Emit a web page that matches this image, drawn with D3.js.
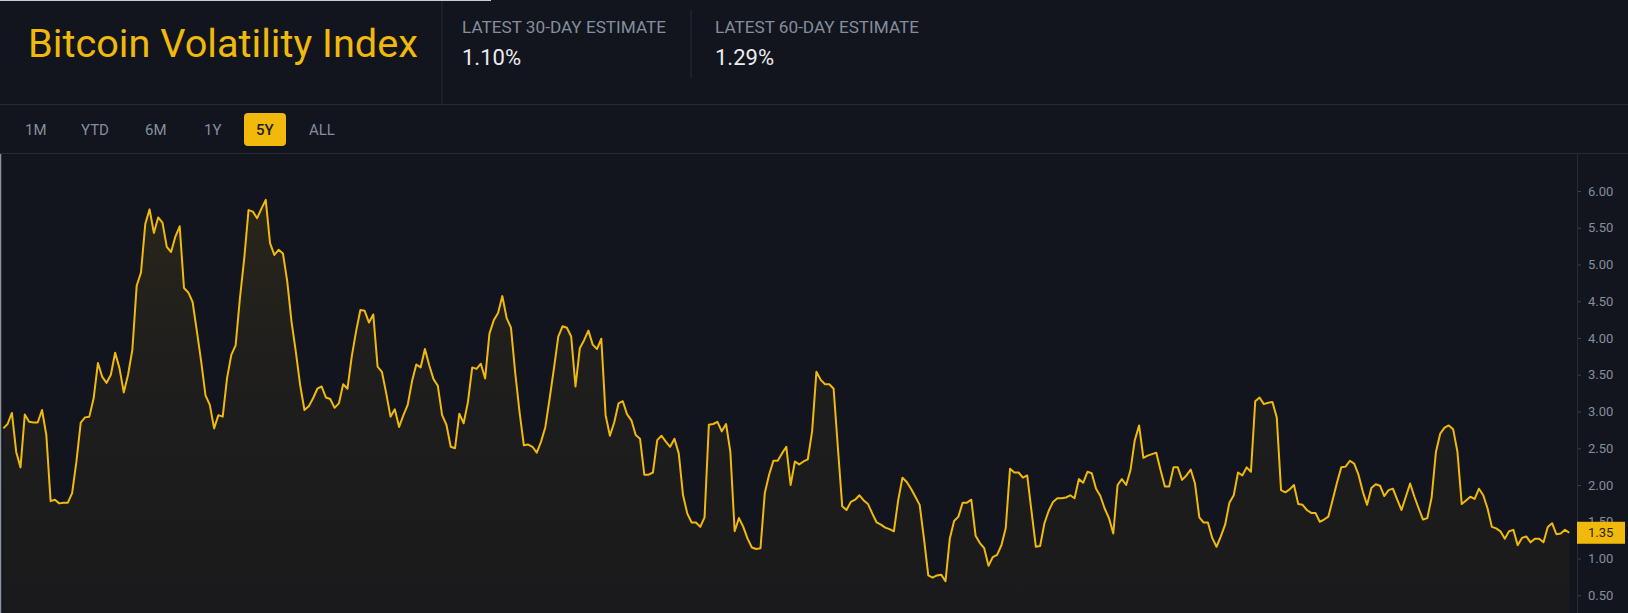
<!DOCTYPE html>
<html>
<head>
<meta charset="utf-8">
<script src="https://cdn.jsdelivr.net/npm/d3@7"></script>
<style>
  html, body { margin: 0; padding: 0; background: #12151e; overflow: hidden; }
  svg { display: block; font-family: Roboto, "Noto Sans", sans-serif; }
</style>
</head>
<body>
<div id="chart"></div>
<script>
// header texts
const title = 'Bitcoin Volatility Index';
const statLabels = ['LATEST 30-DAY ESTIMATE', 'LATEST 60-DAY ESTIMATE'];
const statValues = ['1.10%', '1.29%'];
const ranges = ['1M', 'YTD', '6M', '1Y', '5Y', 'ALL'];
const activeRange = '5Y';

// y axis
const yTicks = [0.5, 1, 1.5, 2, 2.5, 3, 3.5, 4, 4.5, 5, 5.5, 6];
const lastValue = 1.35;

// volatility index, one sample every ~5 days over 5 years
const vol = [
  2.77, 2.83, 2.98, 2.45, 2.24, 2.96, 2.86, 2.85, 2.85, 3.02, 2.68, 1.78, 1.80, 1.75, 1.76, 1.76, 1.89, 2.32, 2.85, 2.92,
  2.93, 3.18, 3.66, 3.47, 3.39, 3.50, 3.80, 3.59, 3.26, 3.50, 3.84, 4.71, 4.89, 5.55, 5.75, 5.43, 5.64, 5.57, 5.24, 5.17,
  5.38, 5.52, 4.68, 4.62, 4.49, 4.09, 3.68, 3.22, 3.09, 2.77, 2.95, 2.93,
  3.45, 3.77, 3.90, 4.54, 5.08, 5.74, 5.72, 5.63, 5.76, 5.88, 5.29, 5.13, 5.20, 5.15, 4.77, 4.22, 3.81, 3.36, 3.02, 3.07,
  3.18, 3.31, 3.34, 3.19, 3.17, 3.05, 3.11, 3.37, 3.31, 3.75, 4.09, 4.38, 4.37, 4.21, 4.32, 3.61, 3.54, 3.25, 2.93, 3.03,
  2.79, 2.95, 3.09, 3.41, 3.64, 3.60, 3.85, 3.63, 3.44, 3.35, 2.95, 2.82,
  2.52, 2.50, 2.97, 2.84, 3.13, 3.60, 3.58, 3.65, 3.45, 4.06, 4.24, 4.34, 4.57, 4.27, 4.14, 3.52, 2.99, 2.54, 2.55, 2.52,
  2.44, 2.59, 2.79, 3.18, 3.59, 4.02, 4.16, 4.14, 4.02, 3.34, 3.86, 3.97, 4.10, 3.91, 3.85, 3.99, 2.95, 2.67, 2.85, 3.11,
  3.14, 2.96, 2.88, 2.68, 2.63, 2.14, 2.14, 2.17, 2.61, 2.67, 2.59, 2.52, 2.63,
  2.43, 1.86, 1.61, 1.49, 1.49, 1.43, 1.56, 2.82, 2.83, 2.86, 2.73, 2.83, 2.45, 1.37, 1.55, 1.43, 1.27, 1.15, 1.13, 1.14,
  1.89, 2.14, 2.33, 2.33, 2.43, 2.52, 2.00, 2.32, 2.28, 2.32, 2.35, 2.73, 3.54, 3.43, 3.37, 3.37, 3.31, 2.50, 1.71, 1.66,
  1.77, 1.80, 1.86, 1.79, 1.74, 1.61, 1.49, 1.46, 1.42, 1.40, 1.37, 1.79,
  2.10, 2.04, 1.95, 1.84, 1.73, 1.27, 0.77, 0.74, 0.77, 0.78, 0.69, 1.27, 1.51, 1.57, 1.76, 1.76, 1.80, 1.31, 1.21, 1.14,
  0.90, 1.02, 1.05, 1.18, 1.41, 2.22, 2.17, 2.17, 2.10, 2.13, 1.64, 1.16, 1.17, 1.48, 1.65, 1.77, 1.82, 1.82, 1.83, 1.86,
  1.82, 2.08, 2.03, 2.18, 2.16, 1.95, 1.85, 1.68, 1.55, 1.34, 2.00, 2.08,
  2.00, 2.20, 2.61, 2.81, 2.37, 2.40, 2.42, 2.44, 2.20, 1.98, 1.98, 2.24, 2.24, 2.07, 2.13, 2.21, 2.02, 1.56, 1.49, 1.49,
  1.28, 1.16, 1.30, 1.46, 1.76, 1.86, 2.17, 2.13, 2.24, 2.18, 3.14, 3.19, 3.10, 3.12, 3.13, 2.92, 1.93, 1.90, 1.94, 2.00,
  1.74, 1.73, 1.66, 1.62, 1.62, 1.50, 1.53, 1.57, 1.80, 2.03, 2.24, 2.25, 2.33,
  2.29, 2.14, 1.91, 1.73, 1.96, 2.01, 1.99, 1.85, 1.93, 1.95, 1.80, 1.66, 1.84, 2.02, 1.84, 1.68, 1.53, 1.55, 1.83, 2.45,
  2.70, 2.78, 2.81, 2.76, 2.45, 1.74, 1.79, 1.84, 1.81, 1.95, 1.86, 1.68, 1.43, 1.41, 1.37, 1.27, 1.37, 1.39, 1.18, 1.28,
  1.30, 1.22, 1.27, 1.27, 1.22, 1.43, 1.48, 1.33, 1.34, 1.39, 1.35
];

let width = 1628;
let height = 613;

const yellow = '#f0b90b';
const grey = '#848e9c';
const border = '#272b34';

let svg = d3.select('#chart')
  .append('svg')
  .attr('width', width)
  .attr('height', height)
  .style('background-color', '#12151e');

// ---- header ----
svg.append('text')
  .attr('x', 28)
  .attr('y', 57)
  .attr('fill', yellow)
  .attr('font-size', 38)
  .attr('textLength', 390)
  .attr('lengthAdjust', 'spacingAndGlyphs')
  .text(title);

let statX = [462, 715];
statLabels.forEach((lab, i) => {
  svg.append('text')
    .attr('x', statX[i])
    .attr('y', 33)
    .attr('fill', grey)
    .attr('font-size', 16)
    .attr('textLength', 204)
    .attr('lengthAdjust', 'spacingAndGlyphs')
    .text(lab);
  svg.append('text')
    .attr('x', statX[i])
    .attr('y', 65)
    .attr('fill', '#eaecef')
    .attr('font-size', 22)
    .attr('textLength', 59)
    .attr('lengthAdjust', 'spacingAndGlyphs')
    .text(statValues[i]);
});

// separators
svg.append('line').attr('x1', 442).attr('x2', 442).attr('y1', 0).attr('y2', 104)
  .attr('stroke', border).attr('stroke-width', 1);
svg.append('line').attr('x1', 691).attr('x2', 691).attr('y1', 10).attr('y2', 78)
  .attr('stroke', border).attr('stroke-width', 1);
svg.append('line').attr('x1', 0).attr('x2', width).attr('y1', 104.5).attr('y2', 104.5)
  .attr('stroke', border).attr('stroke-width', 1);
svg.append('line').attr('x1', 0).attr('x2', width).attr('y1', 153.5).attr('y2', 153.5)
  .attr('stroke', border).attr('stroke-width', 1);
// light edge of the screenshot
svg.append('line').attr('x1', 0).attr('x2', 491).attr('y1', 0.5).attr('y2', 0.5)
  .attr('stroke', '#c9ccd1').attr('stroke-width', 1);
svg.append('line').attr('x1', 0.5).attr('x2', 0.5).attr('y1', 154).attr('y2', height)
  .attr('stroke', '#8c929b').attr('stroke-width', 1.5);

// range buttons
let btnX = [25, 81, 145, 204, 256, 309];
ranges.forEach((r, i) => {
  if (r === activeRange) {
    svg.append('rect')
      .attr('x', 244).attr('y', 113)
      .attr('width', 42).attr('height', 33)
      .attr('rx', 4)
      .attr('fill', yellow);
  }
  svg.append('text')
    .attr('x', btnX[i])
    .attr('y', 135)
    .attr('font-size', 15)
    .attr('font-weight', r === activeRange ? 500 : 400)
    .attr('fill', r === activeRange ? '#1e2026' : grey)
    .text(r);
});

// ---- chart ----
let xScale = d3.scaleLinear()
  .domain([0, vol.length - 1])
  .range([3.3, 1569.3]);

let yScale = d3.scaleLinear()
  .domain([0, 6])
  .range([632, 191]);

let defs = svg.append('defs');
let grad = defs.append('linearGradient')
  .attr('id', 'fillGrad')
  .attr('gradientUnits', 'userSpaceOnUse')
  .attr('x1', 0).attr('x2', 0)
  .attr('y1', yScale(6)).attr('y2', height);
grad.append('stop').attr('offset', 0).attr('stop-color', '#2a2619');
grad.append('stop').attr('offset', 0.4).attr('stop-color', '#1f1e1d');
grad.append('stop').attr('offset', 1).attr('stop-color', '#1a1a1c');

let area = d3.area()
  .x((d, i) => xScale(i))
  .y0(height)
  .y1(d => yScale(d));

let line = d3.line()
  .x((d, i) => xScale(i))
  .y(d => yScale(d));

svg.append('path')
  .datum(vol)
  .attr('d', area)
  .attr('fill', 'url(#fillGrad)');

svg.append('path')
  .datum(vol)
  .attr('d', line)
  .attr('fill', 'none')
  .attr('stroke', yellow)
  .attr('stroke-width', 2)
  .attr('stroke-linejoin', 'round');

// right axis
let yAxis = svg.append('g')
  .attr('transform', 'translate(1577,0)')
  .call(d3.axisRight(yScale).tickValues(yTicks).tickFormat(d3.format('.2f')).tickSize(4).tickPadding(7));

yAxis.select('.domain').remove();
yAxis.selectAll('.tick line').attr('stroke', '#3a3f49');
yAxis.selectAll('.tick text')
  .attr('fill', grey)
  .style('font-size', '13px')
  .style('font-family', 'Roboto, sans-serif');

svg.append('line')
  .attr('x1', 1577.5).attr('x2', 1577.5)
  .attr('y1', 154).attr('y2', height)
  .attr('stroke', border).attr('stroke-width', 1);

// last value label
let lastY = yScale(lastValue);
svg.append('rect')
  .attr('x', 1577)
  .attr('y', lastY - 11)
  .attr('width', 48)
  .attr('height', 22)
  .attr('fill', yellow);
svg.append('text')
  .attr('x', 1588)
  .attr('y', lastY)
  .attr('dy', '0.35em')
  .attr('fill', '#2b2410')
  .style('font-size', '13px')
  .text(lastValue.toFixed(2));
</script>
</body>
</html>
